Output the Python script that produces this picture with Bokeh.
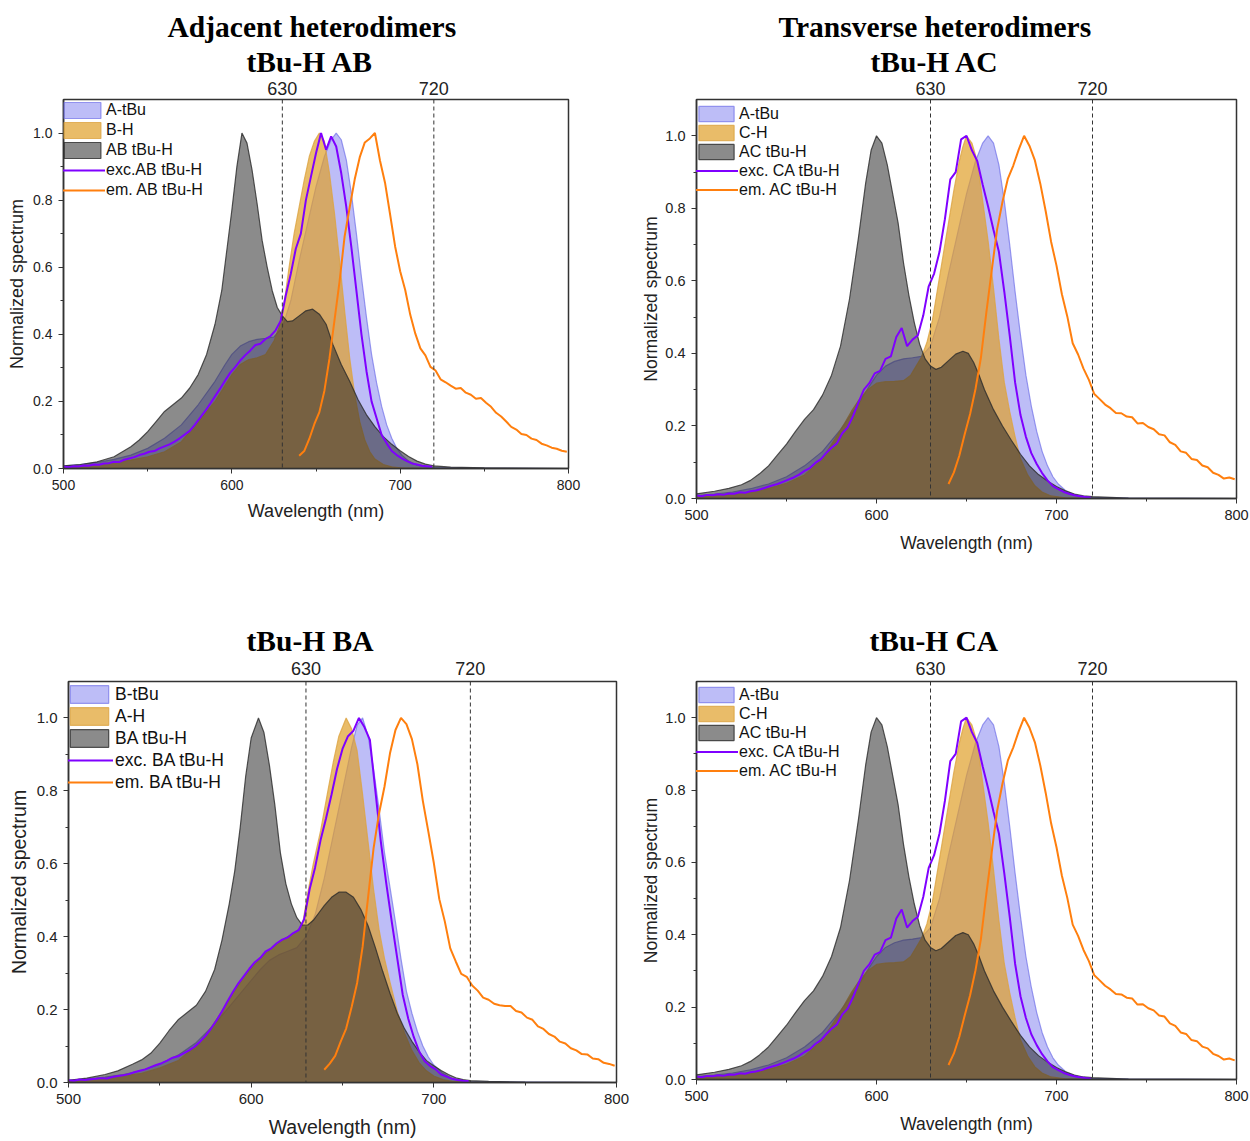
from bokeh.plotting import figure
from bokeh.models import (LinearAxis, FixedTicker, Span, Title, Legend, LegendItem,
                          Range1d, PrintfTickFormatter)
from bokeh.layouts import column, row
from bokeh.embed import file_html
from bokeh.resources import INLINE

# ---------------- data ----------------
X_TICKS = [500, 600, 700, 800]
X_MINOR = [550, 650, 750]
Y_TICKS = [0.0, 0.2, 0.4, 0.6, 0.8, 1.0]
Y_MINOR = [0.1, 0.3, 0.5, 0.7, 0.9]
MARKS = [630, 720]

EXC_X = list(range(500, 720, 3))   # 500 ... 719
EM_X = list(range(640, 800, 3))    # 640 ... 799

# A-tBu absorption (panels AB, AC, CA)
ATBU_X = [500, 510, 520, 530, 540, 550, 560, 570, 580, 590, 596, 600, 605, 610, 615, 620, 625, 630, 635, 640,
          645, 650, 655, 659, 662, 665, 668, 671, 674, 677, 680, 683, 686, 689, 692, 695, 698, 701, 705, 710,
          715, 720, 740, 800]
ATBU_Y = [.008, .012, .018, .027, .04, .06, .09, .13, .19, .26, .31, .34, .365, .378, .385, .388, .392, .42, .50, .62,
          .73, .84, .93, .98, 1.0, .98, .92, .82, .70, .57, .45, .34, .255, .185, .13, .09, .06, .04, .022, .01,
          .005, .003, .001, 0]

# B-H absorption (panel AB)
BH_X = [500, 510, 520, 530, 540, 550, 560, 570, 580, 590, 600, 605, 610, 615, 620, 625, 628, 631, 634, 637,
        640, 643, 646, 649, 652, 655, 658, 661, 664, 667, 670, 673, 676, 679, 682, 685, 690, 695, 700, 720, 800]
BH_Y = [.005, .008, .012, .018, .025, .035, .05, .08, .14, .20, .28, .31, .325, .33, .34, .38, .42, .49, .60, .70,
        .78, .86, .93, .975, 1.0, .975, .88, .76, .62, .47, .33, .22, .14, .085, .05, .028, .012, .005, .002, 0, 0]

# AB tBu-H absorption
ABG_X = [500, 510, 520, 530, 540, 545, 550, 555, 560, 565, 570, 575, 580, 585, 590, 594, 597, 600, 603, 606,
         609, 612, 615, 618, 621, 624, 627, 630, 633, 636, 640, 644, 648, 652, 656, 660, 665, 670, 675, 680,
         685, 690, 695, 700, 705, 710, 715, 720, 730, 750, 800]
ABG_Y = [.008, .012, .02, .035, .065, .085, .11, .14, .17, .19, .21, .24, .28, .34, .43, .53, .65, .77, .90, 1.0,
         .97, .89, .79, .68, .60, .53, .48, .455, .438, .44, .455, .47, .475, .46, .43, .37, .31, .26, .205, .16,
         .125, .095, .072, .053, .036, .022, .013, .008, .004, .002, 0]

# exc. / em. AB tBu-H
AB_EXC = [.006, .004, .007, .006, .009, .008, .012, .011, .015, .016,
          .020, .019, .026, .030, .034, .040, .044, .050, .052, .060,
          .066, .072, .080, .090, .101, .112, .130, .150, .170, .192,
          .215, .238, .262, .285, .302, .322, .338, .352, .368, .372,
          .386, .395, .412, .440, .515, .580, .655, .700, .800, .870,
          .940, 1.0, .950, .990, .960, .880, .780, .660, .530, .400,
          .290, .200, .150, .100, .075, .052, .040, .030, .022, .015,
          .012, .008, .007, .005]
AB_EM = [.038, .052, .088, .132, .168, .232, .328, .442, .558, .692,
         .778, .862, .928, .972, .984, 1.0, .918, .852, .758, .662,
         .588, .532, .458, .402, .358, .337, .303, .292, .266, .257,
         .247, .238, .240, .226, .220, .208, .210, .196, .184, .166,
         .155, .140, .124, .116, .103, .100, .089, .085, .074, .069,
         .062, .059, .053, .050]

# C-H absorption (panels AC, CA)
CH_X = [500, 510, 520, 530, 540, 550, 560, 570, 577, 582, 586, 590, 595, 600, 605, 610, 615, 619, 622, 625,
        628, 631, 634, 637, 640, 643, 646, 648, 650, 653, 656, 659, 662, 665, 668, 671, 674, 677, 680, 684,
        688, 692, 697, 705, 720, 800]
CH_Y = [.005, .008, .012, .018, .028, .042, .065, .11, .165, .205, .24, .27, .30, .318, .322, .323, .325, .34, .365, .39,
        .43, .49, .58, .67, .76, .85, .93, .97, 1.0, .98, .93, .82, .71, .58, .44, .32, .24, .17, .11, .065,
        .035, .018, .007, .002, 0, 0]

# AC tBu-H absorption
ACG_X = [500, 510, 518, 525, 530, 535, 540, 545, 550, 555, 560, 565, 570, 575, 580, 585, 590, 594, 597, 600,
         603, 606, 609, 612, 615, 618, 621, 624, 627, 630, 633, 636, 640, 644, 648, 651, 654, 657, 660, 665,
         670, 675, 680, 685, 690, 695, 700, 705, 710, 715, 720, 740, 800]
ACG_Y = [.013, .02, .028, .038, .05, .068, .09, .12, .15, .185, .218, .245, .285, .34, .42, .55, .72, .87, .96, 1.0,
         .98, .92, .84, .76, .65, .56, .485, .425, .385, .365, .356, .362, .38, .398, .406, .40, .375, .34, .30, .245,
         .20, .16, .122, .09, .066, .048, .033, .021, .012, .007, .005, .001, 0]

# exc. CA / em. AC tBu-H
CA_EXC = [.008, .006, .010, .009, .012, .010, .014, .013, .017, .016,
          .020, .022, .026, .031, .036, .040, .046, .052, .058, .066,
          .076, .084, .098, .108, .125, .140, .152, .180, .196, .228,
          .265, .300, .318, .345, .352, .385, .392, .445, .470, .420,
          .438, .450, .505, .585, .620, .680, .770, .880, .900, .990,
          1.0, .960, .930, .865, .805, .740, .680, .570, .450, .320,
          .230, .170, .125, .095, .070, .050, .034, .026, .018, .013,
          .009, .006, .004, .003]
AC_EM = [.040, .072, .118, .177, .233, .302, .388, .512, .628, .742,
         .818, .882, .918, .962, 1.0, .972, .932, .868, .792, .708,
         .642, .563, .502, .428, .397, .358, .327, .288, .274, .259,
         .249, .236, .235, .226, .224, .207, .208, .197, .191, .177,
         .174, .155, .148, .130, .126, .109, .106, .091, .086, .071,
         .065, .055, .058, .053]

# B-tBu absorption (panel BA)
BTBU_X = [500, 510, 520, 530, 540, 550, 560, 570, 580, 590, 600, 605, 610, 615, 620, 625, 630, 635, 640, 645,
          650, 655, 658, 661, 664, 667, 670, 673, 676, 679, 682, 685, 688, 691, 694, 697, 700, 705, 710, 715,
          720, 740, 800]
BTBU_Y = [.006, .01, .015, .022, .033, .05, .075, .11, .16, .22, .28, .31, .335, .35, .36, .37, .40, .46, .56, .68,
          .80, .92, .98, 1.0, .95, .86, .75, .63, .535, .44, .34, .25, .19, .14, .10, .07, .048, .025, .011, .005,
          .002, .001, 0]

# A-H absorption (panel BA)
AH_X = [500, 510, 520, 530, 540, 550, 560, 566, 572, 578, 584, 590, 596, 602, 608, 614, 620, 625, 628, 631,
        634, 638, 642, 645, 648, 652, 655, 658, 661, 664, 667, 670, 673, 676, 680, 684, 688, 692, 696, 700,
        705, 710, 720, 800]
AH_Y = [.005, .008, .012, .018, .025, .04, .06, .085, .11, .15, .195, .245, .29, .325, .355, .38, .40, .415, .43, .52,
        .60, .69, .80, .88, .95, 1.0, .97, .91, .79, .66, .53, .42, .34, .275, .195, .135, .088, .054, .032, .018,
        .008, .003, 0, 0]

# BA tBu-H absorption
BAG_X = [500, 510, 520, 527, 535, 540, 545, 550, 555, 560, 565, 570, 575, 580, 584, 588, 591, 594, 597, 600,
         604, 607, 610, 613, 616, 619, 622, 625, 628, 631, 634, 637, 640, 644, 648, 652, 656, 660, 664, 668,
         672, 676, 680, 684, 688, 692, 696, 700, 704, 708, 712, 716, 720, 730, 750, 800]
BAG_Y = [.006, .012, .022, .032, .05, .062, .08, .108, .142, .172, .192, .212, .25, .31, .39, .49, .58, .70, .84, .945,
         1.0, .96, .87, .76, .63, .545, .49, .452, .432, .432, .445, .465, .485, .508, .522, .522, .508, .475, .43, .37,
         .305, .245, .19, .147, .113, .084, .06, .046, .033, .022, .013, .008, .005, .003, .001, 0]

# exc. / em. BA tBu-H
BA_EXC = [.006, .005, .008, .007, .009, .010, .012, .011, .015, .018,
          .020, .023, .028, .032, .036, .042, .048, .053, .060, .068,
          .072, .080, .088, .098, .112, .128, .148, .170, .195, .222,
          .248, .272, .292, .312, .330, .342, .360, .368, .382, .392,
          .398, .410, .418, .448, .530, .590, .665, .725, .790, .860,
          .915, .950, .965, 1.0, .975, .940, .800, .660, .545, .440,
          .340, .240, .175, .125, .085, .058, .045, .036, .022, .016,
          .010, .007, .005, .004]
BA_EM = [.035, .052, .073, .112, .148, .207, .273, .372, .508, .642,
         .738, .812, .903, .967, 1.0, .983, .942, .873, .772, .688,
         .602, .503, .442, .368, .332, .298, .290, .266, .252, .233,
         .227, .216, .212, .210, .210, .196, .192, .178, .172, .154,
         .147, .133, .126, .112, .107, .094, .088, .078, .077, .066,
         .064, .054, .051, .046]

# ---------------- styling ----------------
SANS = "Liberation Sans"
SERIF = "Liberation Serif"
BLUE = dict(fill_color="#7b7bf0", fill_alpha=0.5, line_color="#7070e8", line_alpha=0.7, line_width=1.2)
ORANGE = dict(fill_color="#e0a02a", fill_alpha=0.7, line_color="#dca442", line_alpha=0.8, line_width=1.2)
GRAY = dict(fill_color="#202020", fill_alpha=0.52, line_color="#2a2a2a", line_alpha=0.8, line_width=1.2)
EXC_COLOR = "#7f00ff"
EM_COLOR = "#ff7f0e"


def closed(xs, ys):
    return list(xs) + [xs[-1], xs[0]], list(ys) + [0, 0]


def make_panel(g, titles, names, areas, exc_y, em_y):
    p = figure(x_range=Range1d(500, 800), y_range=Range1d(0, 1.1),
               frame_width=g["fw"], frame_height=g["fh"],
               min_border_left=g["bl"], min_border_right=g["br"],
               min_border_top=g["bt"], min_border_bottom=g["bb"],
               output_backend="svg", toolbar_location=None, title=None,
               background_fill_color="white", border_fill_color="white")
    p.xgrid.visible = False
    p.ygrid.visible = False
    p.outline_line_color = "#333333"
    p.outline_line_width = 1.5
    p.outline_line_alpha = 1.0

    p.xaxis.ticker = FixedTicker(ticks=X_TICKS, minor_ticks=X_MINOR)
    p.yaxis.ticker = FixedTicker(ticks=Y_TICKS, minor_ticks=Y_MINOR)
    p.yaxis.formatter = PrintfTickFormatter(format="%.1f")
    p.xaxis.axis_label = "Wavelength (nm)"
    p.yaxis.axis_label = "Normalized spectrum"
    for ax in (p.xaxis[0], p.yaxis[0]):
        ax.axis_line_color = "#333333"
        ax.axis_line_width = 1.5
        ax.major_tick_line_color = "#333333"
        ax.minor_tick_line_color = "#333333"
        ax.major_tick_out = 5
        ax.major_tick_in = 0
        ax.minor_tick_out = 3
        ax.minor_tick_in = 0
        ax.major_label_text_font = SANS
        ax.major_label_text_font_size = g["tick"]
        ax.major_label_text_color = "#222222"
        ax.axis_label_text_font = SANS
        ax.axis_label_text_font_style = "normal"
        ax.axis_label_text_font_size = g["lab"]
        ax.axis_label_text_color = "#222222"
        ax.major_label_standoff = 6
    p.xaxis.axis_label_standoff = g["xs"]
    p.yaxis.axis_label_standoff = g["ys"]

    top = LinearAxis(ticker=FixedTicker(ticks=MARKS))
    top.major_tick_out = 0
    top.major_tick_in = 0
    top.minor_tick_out = 0
    top.axis_line_color = None
    top.major_tick_line_color = None
    top.major_label_standoff = g["tstand"]
    top.major_label_text_font = SANS
    top.major_label_text_font_size = "18px"
    top.major_label_text_color = "#222222"
    p.add_layout(top, "above")

    rends = []
    for (ax_, ay_), style in zip(areas, (BLUE, ORANGE, GRAY)):
        xs, ys = closed(ax_, ay_)
        rends.append(p.patch(x=xs, y=ys, **style))
    rends.append(p.line(x=EXC_X, y=exc_y, line_color=EXC_COLOR, line_width=2))
    rends.append(p.line(x=EM_X, y=em_y, line_color=EM_COLOR, line_width=2))

    for m in MARKS:
        p.add_layout(Span(location=m, dimension="height", line_color="#333333",
                          line_width=1, line_dash="4 3"))

    legend = Legend(items=[LegendItem(label=n, renderers=[r]) for n, r in zip(names, rends)],
                    location=(g["lx"], g["ly"]), margin=0, padding=0,
                    glyph_width=g["gw"], glyph_height=g["gh"], label_height=g["gh"],
                    spacing=0, label_standoff=g["ls"],
                    label_text_font=SANS, label_text_font_size=g["leg"],
                    label_text_color="#111111",
                    border_line_color=None, background_fill_alpha=0.0)
    p.add_layout(legend)

    # titles: listed from top to bottom; the lowest line is added first (closest to the frame)
    for (t, off, so) in reversed(titles):
        p.add_layout(Title(text=t, align="left", offset=off, standoff=so,
                           text_font=SERIF, text_font_style="bold",
                           text_font_size="29.5px", text_color="black"), "above")
    return p


G1 = dict(fw=505, fh=369, bl=63, br=52, bt=99, bb=112, tick="14px", lab="18px", xs=8, ys=3,
          gw=46, gh=20, ls=1, leg="16px", lx=-4, ly=268, tstand=5)
G2 = dict(fw=540, fh=399, bl=76, br=13, bt=99, bb=82, tick="14.5px", lab="17.5px", xs=10, ys=1,
          gw=44, gh=19, ls=1, leg="16px", lx=-2, ly=299, tstand=5)
G3 = dict(fw=548, fh=401, bl=68, br=14, bt=101, bb=58, tick="15px", lab="19.5px", xs=9, ys=4,
          gw=48, gh=22, ls=2, leg="17.5px", lx=-3, ly=289, tstand=7)
G4 = dict(fw=540, fh=398, bl=66, br=13, bt=101, bb=61, tick="14.5px", lab="17.5px", xs=10, ys=1,
          gw=44, gh=19, ls=1, leg="16px", lx=-2, ly=299, tstand=7)

p1 = make_panel(G1, [("Adjacent heterodimers", 104, 0), ("tBu-H AB", 183, 2)],
                ["A-tBu", "B-H", "AB tBu-H", "exc.AB tBu-H", "em. AB tBu-H"],
                [(ATBU_X, ATBU_Y), (BH_X, BH_Y), (ABG_X, ABG_Y)], AB_EXC, AB_EM)
p2 = make_panel(G2, [("Transverse heterodimers", 82, 0), ("tBu-H AC", 174, 2)],
                ["A-tBu", "C-H", "AC tBu-H", "exc. CA tBu-H", "em. AC tBu-H"],
                [(ATBU_X, ATBU_Y), (CH_X, CH_Y), (ACG_X, ACG_Y)], CA_EXC, AC_EM)
p3 = make_panel(G3, [("tBu-H BA", 178, 4)],
                ["B-tBu", "A-H", "BA tBu-H", "exc. BA tBu-H", "em. BA tBu-H"],
                [(BTBU_X, BTBU_Y), (AH_X, AH_Y), (BAG_X, BAG_Y)], BA_EXC, BA_EM)
p4 = make_panel(G4, [("tBu-H CA", 173, 4)],
                ["A-tBu", "C-H", "AC tBu-H", "exc. CA tBu-H", "em. AC tBu-H"],
                [(ATBU_X, ATBU_Y), (CH_X, CH_Y), (ACG_X, ACG_Y)], CA_EXC, AC_EM)

layout = column(row(p1, p2), row(p3, p4))
open("out.html", "w").write(file_html(layout, INLINE))
